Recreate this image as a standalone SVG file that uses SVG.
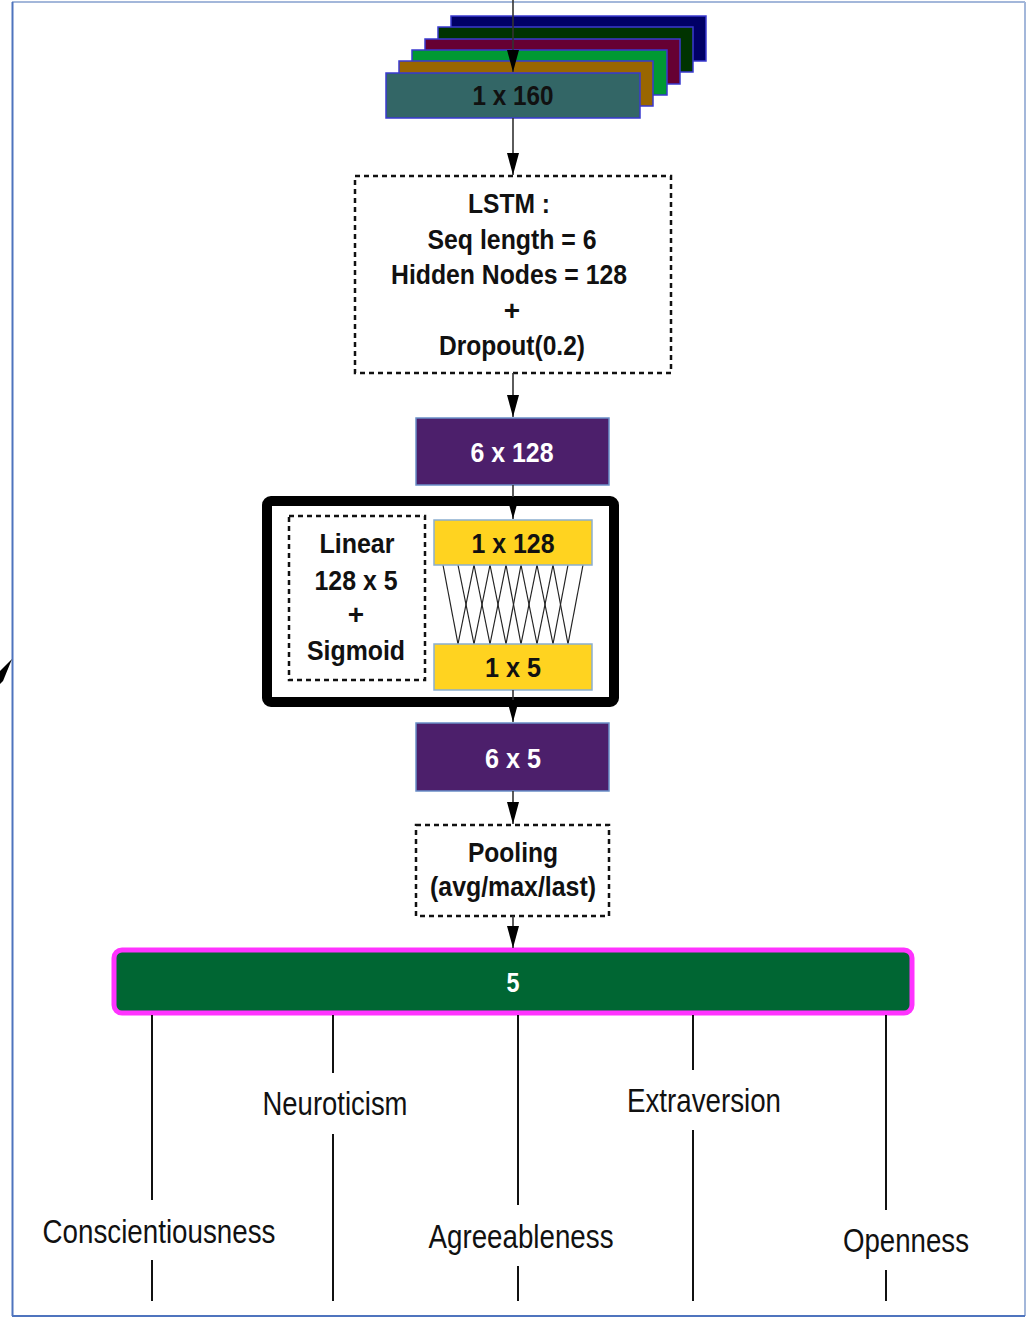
<svg xmlns="http://www.w3.org/2000/svg" width="1028" height="1318" viewBox="0 0 1028 1318">
  <style>
    .b { font-family: "Liberation Sans Narrow", "Liberation Sans", Arial, sans-serif; font-weight: bold; text-anchor: middle; fill: #111; }
    .w { fill: #ffffff; }
    .lbl { font-family: "Liberation Sans Narrow", "Liberation Sans", Arial, sans-serif; font-size: 33px; text-anchor: middle; fill: #111; }
    .dash { fill: #ffffff; stroke: #111; stroke-width: 2.5; stroke-dasharray: 5 4; }
    .purple { fill: #4c1f6b; stroke: #6a8fc8; stroke-width: 1.5; }
    .yellow { fill: #ffd320; stroke: #8aaed0; stroke-width: 1.5; }
    .stack { stroke: #3a3ad0; stroke-width: 1.5; }
    .conn { stroke: #333; stroke-width: 1.6; fill: none; }
    .out { stroke: #111; stroke-width: 2; }
    .mesh { stroke: #222; stroke-width: 1.2; }
  </style>
  <defs>
    <marker id="arrow" viewBox="0 0 22 12" refX="22" refY="6" markerWidth="22" markerHeight="12" markerUnits="userSpaceOnUse" orient="auto">
      <path d="M0,0 L22,6 L0,12 z" fill="#000"/>
    </marker>
  </defs>

  <!-- page frame -->
  <line x1="12" y1="2" x2="1025" y2="2" stroke="#a3b7da" stroke-width="2"/>
  <line x1="1025" y1="2" x2="1025" y2="1316" stroke="#a3b7da" stroke-width="2"/>
  <line x1="12.5" y1="2" x2="12.5" y2="1316" stroke="#4f74be" stroke-width="2"/>
  <line x1="12" y1="1316" x2="1025" y2="1316" stroke="#4f74be" stroke-width="2"/>
  <polygon points="12,659 0,671 0,684 3,681" fill="#000"/>

  <!-- input sequence: stacked frames -->
  <g id="input">
    <rect class="stack" x="451" y="16" width="255" height="45" fill="#000066"/>
    <rect class="stack" x="438" y="27" width="255" height="45" fill="#003300"/>
    <rect class="stack" x="425" y="39" width="255" height="45" fill="#660033"/>
    <rect class="stack" x="412" y="50" width="255" height="45" fill="#009933"/>
    <rect class="stack" x="399" y="61" width="254" height="45" fill="#996600"/>
    <rect class="stack" x="386" y="73" width="254" height="45" fill="#336666"/>
    <text class="b" x="513" y="105" font-size="28" textLength="81" lengthAdjust="spacingAndGlyphs">1 x 160</text>
  </g>

  <!-- LSTM layer -->
  <g id="lstm">
    <rect class="dash" x="355" y="176" width="316" height="197"/>
    <text class="b" x="509" y="213" font-size="28" textLength="82" lengthAdjust="spacingAndGlyphs">LSTM :</text>
    <text class="b" x="512" y="249" font-size="28" textLength="169" lengthAdjust="spacingAndGlyphs">Seq length = 6</text>
    <text class="b" x="509" y="284" font-size="28" textLength="236" lengthAdjust="spacingAndGlyphs">Hidden Nodes = 128</text>
    <text class="b" x="512" y="320" font-size="28">+</text>
    <text class="b" x="512" y="355" font-size="28" textLength="146" lengthAdjust="spacingAndGlyphs">Dropout(0.2)</text>
  </g>

  <!-- LSTM output -->
  <g id="h6x128">
    <rect class="purple" x="416" y="418" width="193" height="67"/>
    <text class="b w" x="512" y="462" font-size="28" textLength="83" lengthAdjust="spacingAndGlyphs">6 x 128</text>
  </g>

  <!-- linear + sigmoid block -->
  <g id="linear">
    <rect x="267" y="501" width="347" height="201" rx="4" fill="#ffffff" stroke="#000" stroke-width="10"/>
    <rect class="dash" x="289" y="516" width="136" height="164"/>
    <text class="b" x="357" y="553" font-size="28" textLength="75" lengthAdjust="spacingAndGlyphs">Linear</text>
    <text class="b" x="356" y="590" font-size="28" textLength="83" lengthAdjust="spacingAndGlyphs">128 x 5</text>
    <text class="b" x="356" y="624" font-size="28">+</text>
    <text class="b" x="356" y="660" font-size="28" textLength="98" lengthAdjust="spacingAndGlyphs">Sigmoid</text>
    <g id="mesh">
      <line class="mesh" x1="443" y1="565" x2="458" y2="644"/>
      <line class="mesh" x1="458" y1="565" x2="474" y2="644"/>
      <line class="mesh" x1="474" y1="565" x2="490" y2="644"/>
      <line class="mesh" x1="490" y1="565" x2="506" y2="644"/>
      <line class="mesh" x1="506" y1="565" x2="521" y2="644"/>
      <line class="mesh" x1="521" y1="565" x2="537" y2="644"/>
      <line class="mesh" x1="537" y1="565" x2="553" y2="644"/>
      <line class="mesh" x1="553" y1="565" x2="568" y2="644"/>
      <line class="mesh" x1="474" y1="565" x2="458" y2="644"/>
      <line class="mesh" x1="490" y1="565" x2="474" y2="644"/>
      <line class="mesh" x1="506" y1="565" x2="490" y2="644"/>
      <line class="mesh" x1="521" y1="565" x2="506" y2="644"/>
      <line class="mesh" x1="537" y1="565" x2="521" y2="644"/>
      <line class="mesh" x1="553" y1="565" x2="537" y2="644"/>
      <line class="mesh" x1="568" y1="565" x2="553" y2="644"/>
      <line class="mesh" x1="583" y1="565" x2="568" y2="644"/>
    </g>
    <rect class="yellow" x="434" y="520" width="158" height="45"/>
    <text class="b" x="513" y="553" font-size="28" textLength="83" lengthAdjust="spacingAndGlyphs">1 x 128</text>
    <rect class="yellow" x="434" y="644" width="158" height="46"/>
    <text class="b" x="513" y="677" font-size="28" textLength="56" lengthAdjust="spacingAndGlyphs">1 x 5</text>
  </g>

  <!-- per-step scores -->
  <g id="h6x5">
    <rect class="purple" x="416" y="723" width="193" height="68"/>
    <text class="b w" x="513" y="768" font-size="28" textLength="56" lengthAdjust="spacingAndGlyphs">6 x 5</text>
  </g>

  <!-- pooling -->
  <g id="pooling">
    <rect class="dash" x="416" y="825" width="193" height="91"/>
    <text class="b" x="513" y="862" font-size="28" textLength="90" lengthAdjust="spacingAndGlyphs">Pooling</text>
    <text class="b" x="513" y="896" font-size="28" textLength="166" lengthAdjust="spacingAndGlyphs">(avg/max/last)</text>
  </g>

  <!-- final traits vector -->
  <g id="traits">
    <rect x="114" y="950" width="798" height="63" rx="8" fill="#006633" stroke="#ff33ff" stroke-width="5"/>
    <text class="b w" x="513" y="992" font-size="28" textLength="13" lengthAdjust="spacingAndGlyphs">5</text>
  </g>

  <!-- trait labels -->
  <g id="labels">
    <text class="lbl" x="159" y="1243" textLength="233" lengthAdjust="spacingAndGlyphs">Conscientiousness</text>
    <text class="lbl" x="335" y="1115" textLength="145" lengthAdjust="spacingAndGlyphs">Neuroticism</text>
    <text class="lbl" x="521" y="1248" textLength="185" lengthAdjust="spacingAndGlyphs">Agreeableness</text>
    <text class="lbl" x="704" y="1112" textLength="154" lengthAdjust="spacingAndGlyphs">Extraversion</text>
    <text class="lbl" x="906" y="1252" textLength="126" lengthAdjust="spacingAndGlyphs">Openness</text>
  </g>

  <!-- connectors -->
  <g id="connectors">
    <line class="conn" x1="513" y1="0" x2="513" y2="72" marker-end="url(#arrow)"/>
    <line class="conn" x1="513" y1="118" x2="513" y2="175" marker-end="url(#arrow)"/>
    <line class="conn" x1="513" y1="373" x2="513" y2="417" marker-end="url(#arrow)"/>
    <line class="conn" x1="513" y1="485" x2="513" y2="519" marker-end="url(#arrow)"/>
    <line class="conn" x1="513" y1="690" x2="513" y2="722" marker-end="url(#arrow)"/>
    <line class="conn" x1="513" y1="791" x2="513" y2="824" marker-end="url(#arrow)"/>
    <line class="conn" x1="513" y1="916" x2="513" y2="948" marker-end="url(#arrow)"/>
    <line class="out" x1="152" y1="1015" x2="152" y2="1200"/>
    <line class="out" x1="152" y1="1260" x2="152" y2="1301"/>
    <line class="out" x1="333" y1="1015" x2="333" y2="1073"/>
    <line class="out" x1="333" y1="1134" x2="333" y2="1301"/>
    <line class="out" x1="518" y1="1015" x2="518" y2="1205"/>
    <line class="out" x1="518" y1="1266" x2="518" y2="1301"/>
    <line class="out" x1="693" y1="1015" x2="693" y2="1070"/>
    <line class="out" x1="693" y1="1130" x2="693" y2="1301"/>
    <line class="out" x1="886" y1="1015" x2="886" y2="1210"/>
    <line class="out" x1="886" y1="1270" x2="886" y2="1301"/>
  </g>
</svg>
